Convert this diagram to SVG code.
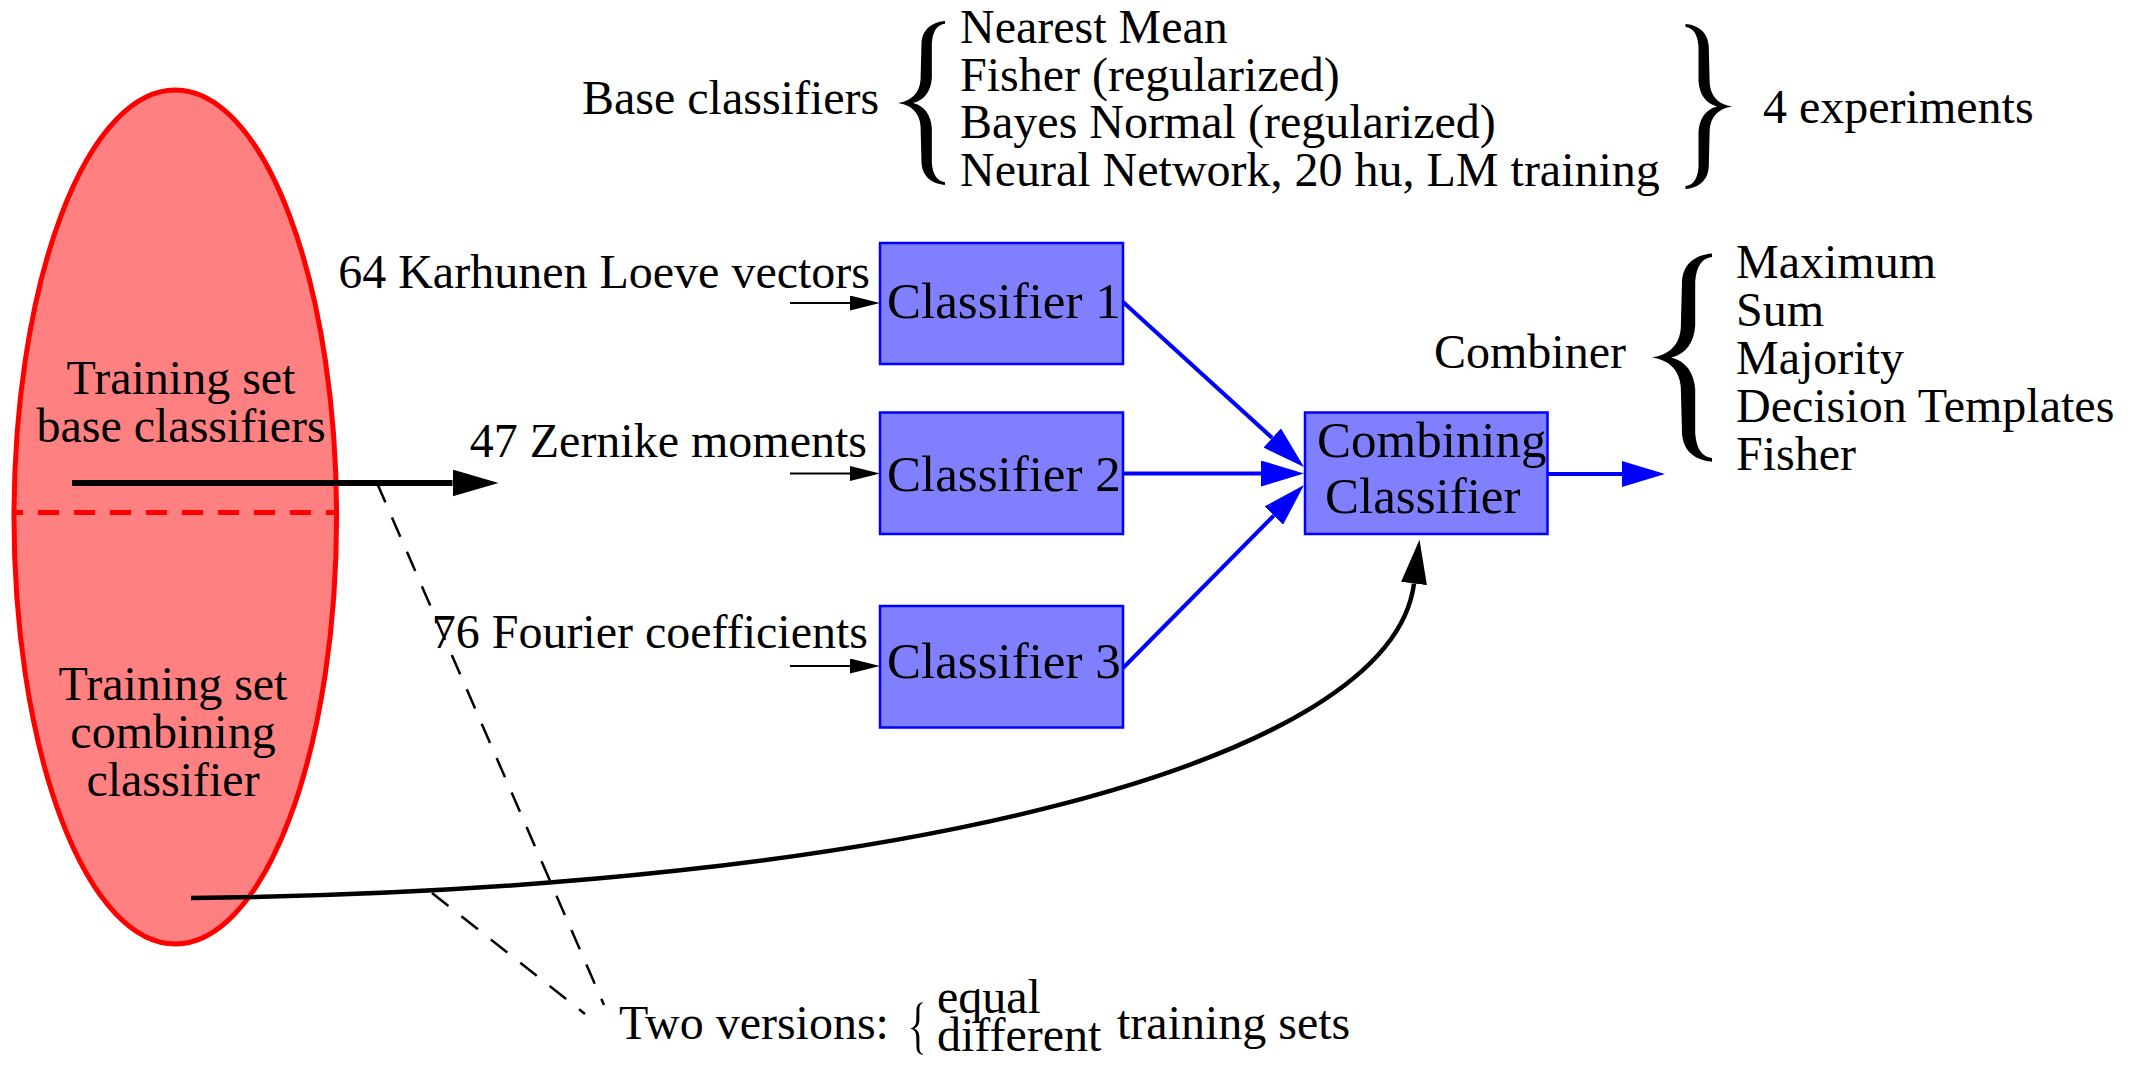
<svg xmlns="http://www.w3.org/2000/svg" width="2134" height="1065" viewBox="0 0 2134 1065">
  <style>
    text { font-family: "Liberation Serif", "Times New Roman", serif; fill: #000; }
    .lbl { font-size: 48px; }
    .box-lbl { font-size: 51px; }
    .box { fill: #8080ff; stroke: #0000ff; stroke-width: 2.5; }
    .blue { stroke: #0000ff; stroke-width: 4; fill: none; }
    .dash { stroke: #000; stroke-width: 2.5; stroke-dasharray: 21 16.5; fill: none; }
  </style>
  <defs>
    <path id="brace" d="M50,-85 C38,-84 26,-78 25,-62 L24,-24 C23,-10 14,-2 0,0 C14,2 23,10 24,24 L25,62 C26,78 38,84 50,85 L50,82 C42,81 37,75 36,62 L36,26 C35,12 28,3 16,0 C28,-3 35,-12 36,-26 L36,-62 C37,-75 42,-81 50,-82 Z" fill="#000"/>
    <marker id="arrowBig" markerUnits="userSpaceOnUse" viewBox="0 -13.5 46 27" markerWidth="46" markerHeight="27" refX="0" refY="0" orient="auto">
      <path d="M0,-13.5 L46,0 L0,13.5 Z" fill="#000"/>
    </marker>
    <marker id="arrowSmall" markerUnits="userSpaceOnUse" viewBox="0 -7.5 30 15" markerWidth="30" markerHeight="15" refX="0" refY="0" orient="auto">
      <path d="M0,-7.5 L30,0 L0,7.5 Z" fill="#000"/>
    </marker>
    <marker id="arrowBlue" markerUnits="userSpaceOnUse" viewBox="0 -13 43 26" markerWidth="43" markerHeight="26" refX="0" refY="0" orient="auto">
      <path d="M0,-13 L43,0 L0,13 Z" fill="#0000ff"/>
    </marker>
    <marker id="arrowCurve" markerUnits="userSpaceOnUse" viewBox="0 -13 44 26" markerWidth="44" markerHeight="26" refX="0" refY="0" orient="auto">
      <path d="M0,-13 L44,0 L0,13 Z" fill="#000"/>
    </marker>
  </defs>

  <g id="training-set">
    <ellipse cx="175.3" cy="517" rx="161.3" ry="427" fill="#ff8080" stroke="#ff0000" stroke-width="5"/>
    <line x1="12" y1="512.5" x2="337" y2="512.5" stroke="#ff0000" stroke-width="5" stroke-dasharray="21 15" stroke-dashoffset="10"/>
    <text class="lbl" x="181" y="394" text-anchor="middle">Training set</text>
    <text class="lbl" x="181" y="442" text-anchor="middle">base classifiers</text>
    <text class="lbl" x="173" y="700" text-anchor="middle">Training set</text>
    <text class="lbl" x="173" y="748" text-anchor="middle">combining</text>
    <text class="lbl" x="173" y="795.5" text-anchor="middle">classifier</text>
  </g>

  <g id="base-classifiers">
    <text class="lbl" x="582" y="114">Base classifiers</text>
    <use href="#brace" transform="translate(898,103) scale(0.94,0.965)"/>
    <text class="lbl" x="960" y="43">Nearest Mean</text>
    <text class="lbl" x="960" y="90.5">Fisher (regularized)</text>
    <text class="lbl" x="960" y="138">Bayes Normal (regularized)</text>
    <text class="lbl" x="960" y="185.5">Neural Network, 20 hu, LM training</text>
    <use href="#brace" transform="translate(1732,106.5) scale(-0.93,0.97)"/>
    <text class="lbl" x="1763" y="123">4 experiments</text>
  </g>

  <g id="feature-labels">
    <text class="lbl" x="870" y="287.5" text-anchor="end">64 Karhunen Loeve vectors</text>
    <text class="lbl" x="867" y="457" text-anchor="end">47 Zernike moments</text>
    <text class="lbl" x="868" y="648" text-anchor="end">76 Fourier coefficients</text>
  </g>

  <g id="classifier1">
    <rect class="box" x="880" y="243" width="243" height="121"/>
    <text class="box-lbl" x="887" y="318">Classifier 1</text>
  </g>
  <g id="classifier2">
    <rect class="box" x="880" y="412.5" width="243" height="121.5"/>
    <text class="box-lbl" x="887" y="491">Classifier 2</text>
  </g>
  <g id="classifier3">
    <rect class="box" x="880" y="606" width="243" height="121.5"/>
    <text class="box-lbl" x="887" y="678">Classifier 3</text>
  </g>
  <g id="combining-classifier">
    <rect class="box" x="1305" y="412.5" width="242.5" height="121.5"/>
    <text class="box-lbl" x="1317" y="457">Combining</text>
    <text class="box-lbl" x="1325" y="513">Classifier</text>
  </g>

  <g id="combiner">
    <text class="lbl" x="1434" y="368">Combiner</text>
    <use href="#brace" transform="translate(1652,357.5) scale(1.2,1.225)"/>
    <text class="lbl" x="1736" y="278">Maximum</text>
    <text class="lbl" x="1736" y="326">Sum</text>
    <text class="lbl" x="1736" y="374">Majority</text>
    <text class="lbl" x="1736" y="421.5">Decision Templates</text>
    <text class="lbl" x="1736" y="469.5">Fisher</text>
  </g>

  <g id="two-versions">
    <text class="lbl" x="619" y="1039">Two versions:</text>
    <use href="#brace" transform="translate(910,1028.5) scale(0.26,0.31)"/>
    <text class="lbl" x="937" y="1013">equal</text>
    <text class="lbl" x="937" y="1051">different</text>
    <text class="lbl" x="1117" y="1039">training sets</text>
  </g>

  <g id="connectors">
    <line x1="72" y1="483" x2="452.5" y2="483" stroke="#000" stroke-width="6" marker-end="url(#arrowBig)"/>
    <line x1="790" y1="303" x2="850" y2="303" stroke="#000" stroke-width="2" marker-end="url(#arrowSmall)"/>
    <line x1="790" y1="473.5" x2="850" y2="473.5" stroke="#000" stroke-width="2" marker-end="url(#arrowSmall)"/>
    <line x1="790" y1="666" x2="850" y2="666" stroke="#000" stroke-width="2" marker-end="url(#arrowSmall)"/>
    <line class="blue" x1="1123" y1="302" x2="1272.2" y2="438" marker-end="url(#arrowBlue)"/>
    <line class="blue" x1="1123" y1="473.5" x2="1261" y2="473.5" stroke-width="5" marker-end="url(#arrowBlue)"/>
    <line class="blue" x1="1123" y1="668" x2="1273.8" y2="515.6" marker-end="url(#arrowBlue)"/>
    <line class="blue" x1="1547.5" y1="474" x2="1622" y2="474" stroke-width="5" marker-end="url(#arrowBlue)"/>
    <path d="M191,898 C900,890 1391.5,762 1414,583.5" fill="none" stroke="#000" stroke-width="4.5" marker-end="url(#arrowCurve)"/>
    <line class="dash" x1="377" y1="483" x2="604" y2="1005"/>
    <line class="dash" x1="432" y1="893" x2="585" y2="1014"/>
  </g>
</svg>
